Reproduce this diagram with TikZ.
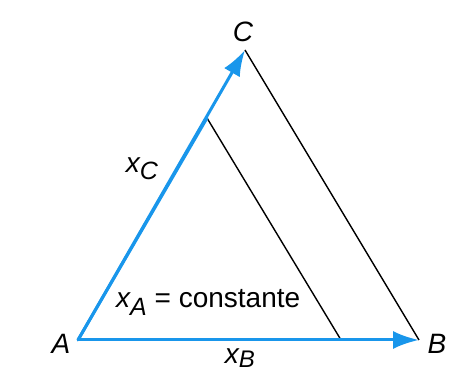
\documentclass[tikz,border=0pt]{standalone}
\usepackage{fontspec}
\setmainfont{Liberation Sans}
\usetikzlibrary{arrows.meta}
\definecolor{skyblue}{RGB}{25,150,235}
\begin{document}
\begin{tikzpicture}[x=1pt,y=1pt,
  bluevec/.style={draw=skyblue,line width=3pt,-{Latex[length=26pt,width=18pt]}},
  thinline/.style={draw=black,line width=1.4pt},
  lbl/.style={font=\fontsize{28}{30}\selectfont\itshape,inner sep=0pt}]
\useasboundingbox (0,0) rectangle (466,374);
\coordinate (A) at (78,34);
\coordinate (B) at (419,34);
\coordinate (C) at (245,324);
\coordinate (P) at (207,256);
\coordinate (Q) at (341,34);
\draw[thinline] (C) -- (B);
\draw[thinline] (P) -- (Q);
\draw[skyblue,line width=3pt,line cap=round] (A) -- (P);
\draw[bluevec] (A) -- (C);
\draw[bluevec] (A) -- (B);
\node[lbl] (lC) at (243,342) {C};
\node[lbl] (lA) at (61,30) {A};
\node[lbl] (lB) at (437,30) {B};
\node[lbl] (lxC) at (142,205) {x\raisebox{-7pt}{\fontsize{25}{26}\selectfont C}};
\node[lbl,anchor=south] (lxB) at (240,6) {x\raisebox{-4pt}{\fontsize{24}{26}\selectfont B}};
\node[lbl,anchor=west] (lxA) at (116,72) {x\raisebox{-8pt}{\fontsize{25}{26}\selectfont A}\upshape\ = constante};
\end{tikzpicture}
\end{document}
